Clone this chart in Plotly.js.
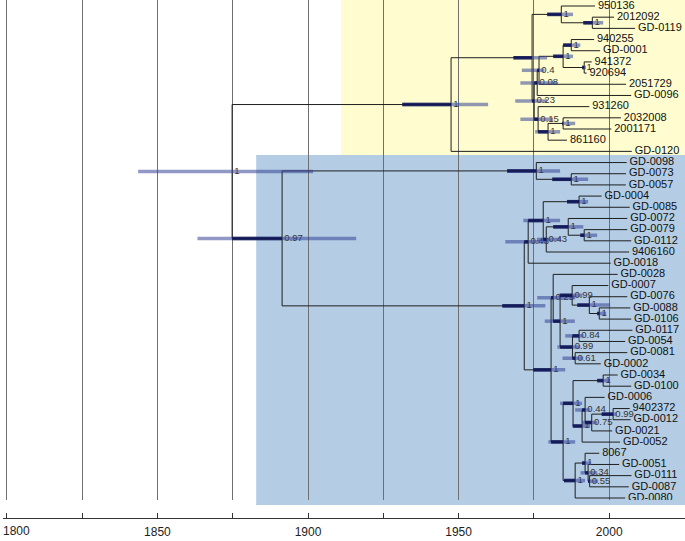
<!DOCTYPE html>
<html><head><meta charset="utf-8">
<script src="https://cdn.plot.ly/plotly-3.0.1.min.js"></script>
<style>html,body{margin:0;padding:0;background:#fff}#chart{width:685px;height:541px}</style>
</head><body><div id="chart"></div>
<script>
// ---------- data ----------
const leafNames = ['950136','2012092','GD-0119','940255','GD-0001','941372','920694','2051729','GD-0096','931260','2032008','2001171','861160','GD-0120',
  'GD-0098','GD-0073','GD-0057','GD-0004','GD-0085','GD-0072','GD-0079','GD-0112','9406160','GD-0018','GD-0028','GD-0007','GD-0076','GD-0088','GD-0106',
  'GD-0117','GD-0054','GD-0081','GD-0002','GD-0034','GD-0100','GD-0006','9402372','GD-0012','GD-0021','GD-0052','8067','GD-0051','GD-0111','GD-0087','GD-0080'];
const leafYears = [1995.3,2001.6,2008.6,1995.0,1997.0,1994.2,1992.5,2005.6,2007.3,1993.4,2003.9,2000.7,1986.0,2007.5,
  2005.8,2005.6,2005.5,1997.5,2006.8,2006.0,2006.0,2007.3,2006.6,2000.5,2002.8,1999.7,2006.0,2007.0,2007.3,
  2007.7,2005.3,2006.0,1997.2,2002.8,2007.3,1998.5,2006.8,2007.1,2001.0,2003.6,1996.7,2003.3,2007.4,2006.5,2005.3];

const nodeIds = ['root','Y0','Y1','a','b','n023','n008','n04','pq','p','q','n015','r','s',
  'A','B0','m','B1','N1','N2','N2a','N3','N4','N4a','N5','w8','w7','w3','w2','w1','w6','w4','w5',
  'U7','U6','u1','u5','u4','u3','u2','v4','v3','v2','v1'];
const nodeKids = [['Y0','A'],['Y1','GD-0120'],['a','n023'],['950136','b'],['2012092','GD-0119'],['n008','n015'],['n04','GD-0096'],['pq','2051729'],
  ['p','q'],['940255','GD-0001'],['941372','920694'],['931260','r'],['s','861160'],['2032008','2001171'],
  ['B0','B1'],['GD-0098','m'],['GD-0073','GD-0057'],['N1','N5'],['N2','GD-0018'],['N2a','N3'],['GD-0004','GD-0085'],['N4','9406160'],
  ['GD-0072','N4a'],['GD-0079','GD-0112'],['w8','U7'],['GD-0028','w7'],['w3','w6'],['GD-0007','w2'],['GD-0076','w1'],['GD-0088','GD-0106'],
  ['w4','w5'],['GD-0117','GD-0054'],['GD-0081','GD-0002'],
  ['U6','v4'],['u1','u5'],['GD-0034','GD-0100'],['u4','GD-0052'],['GD-0006','u3'],['u2','GD-0021'],['9402372','GD-0012'],
  ['v3','GD-0080'],['8067','v2'],['GD-0051','v1'],['GD-0111','GD-0087']];
const nodeYears = [1874.8,1947.5,1974.4,1984.1,1994.4,1975.1,1976.1,1976.7,1984.7,1987.4,1991.7,1976.4,1979.7,1984.7,
  1891.4,1975.8,1987.4,1971.8,1973.1,1978.1,1990.0,1979.1,1986.4,1991.7,1980.7,1981.4,1983.7,1987.7,1993.4,1996.7,1987.8,1990.0,1988.7,
  1984.7,1988.0,1998.0,1991.0,1992.0,1994.2,2001.3,1988.7,1992.0,1993.0,1993.5];
const hpdLow = [1843.6,1931.3,1968.2,1979.4,1991.4,1968.8,1970.5,1971.0,1981.4,1984.7,1991.0,1970.5,1975.4,1984.4,
  1863.3,1966.1,1981.1,1964.5,1965.5,1971.5,1986.0,1976.0,1981.4,1990.4,1974.8,1976.1,1978.6,1983.1,1989.4,1996.0,1982.8,1985.4,1984.5,
  1979.8,1983.7,1996.0,1987.7,1988.7,1991.0,1997.5,1985.0,1991.0,1990.5,1993.0];
const hpdHigh = [1901.7,1959.8,1979.4,1988.0,1998.0,1979.4,1982.7,1978.5,1988.0,1990.4,1992.3,1981.4,1983.7,1988.7,
  1916.0,1983.7,1993.0,1978.8,1979.4,1983.7,1993.0,1984.0,1991.4,1996.0,1985.4,1988.7,1988.6,1991.1,2000.3,1999.0,1990.4,1991.5,1991.4,
  1988.7,1991.0,2000.3,1993.7,1993.7,1996.0,2002.5,1992.0,1994.0,1996.0,1996.3];
const posterior = ['1','1','','1','1','0.23','0.08','0.4','1','1','1','0.15','1','1',
  '0.97','1','1','1','0.43','1','1','0.43','1','1','1','0.29','1','0.99','1','1','0.99','0.84','0.61',
  '1','1','1','1','0.44','0.75','0.99','1','1','0.34','0.55'];

const tickYears = [1800,1825,1850,1875,1900,1925,1950,1975,2000];
const tickLabels = ['','','1850','','1900','','1950','','2000'];
const firstTickLabel = '1800';

const highlightNodes = ['Y0','A'];
const highlightStart = [1911.0,1882.8];

// ---------- tree geometry ----------
const yearOf = {}, rowOf = {}, kidsOf = {}, parentOf = {};
leafNames.forEach((n,i)=>{ yearOf[n]=leafYears[i]; rowOf[n]=i; });
nodeIds.forEach((n,i)=>{ yearOf[n]=nodeYears[i]; kidsOf[n]=nodeKids[i]; nodeKids[i].forEach(c=>parentOf[c]=n); });
function rowFor(n){
  if (rowOf[n]!==undefined) return rowOf[n];
  const k = kidsOf[n];
  const r = (rowFor(k[0]) + rowFor(k[k.length-1]))/2;
  rowOf[n]=r; return r;
}
nodeIds.forEach(rowFor);
function leavesUnder(n){ return kidsOf[n] ? kidsOf[n].flatMap(leavesUnder) : [n]; }

const bx=[], by=[];
nodeIds.forEach(n=>{
  const k = kidsOf[n], x = yearOf[n];
  bx.push(x, x, null); by.push(rowOf[k[0]], rowOf[k[k.length-1]], null);
  k.forEach(c=>{ bx.push(x, yearOf[c], null); by.push(rowOf[c], rowOf[c], null); });
});
const lx=[], ly=[], dx=[], dy=[];
nodeIds.forEach((n,i)=>{
  const y = rowOf[n];
  lx.push(hpdLow[i], hpdHigh[i], null); ly.push(y, y, null);
  if (parentOf[n]) {
    const s = Math.max(hpdLow[i], yearOf[parentOf[n]]);
    if (s < nodeYears[i]) { dx.push(s, nodeYears[i], null); dy.push(y, y, null); }
  }
});

// ---------- layout geometry ----------
const W=685, H=541, ML=3, MR=0, MT=0, MB=23, PXY=3.012;
const plotH = H-MT-MB, gridBottom = 500, rowPx = 11.182, firstRowPx = 6;
const xMin = 1800 - 3.8/PXY, xMax = xMin + (W-ML-MR)/PXY;
const yTop = -firstRowPx/rowPx, yBot = yTop + gridBottom/rowPx;
const rowToPaper = r => (plotH - (r - yTop)*rowPx)/plotH;
const yearToPaper = v => (v - xMin)/(xMax - xMin);

const boxColors = ['#fffdcf','#b4cde4'];
const boxPad = [[-0.6,0.33],[-0.67,0.63]];
const shapes = highlightNodes.map((n,i)=>{
  const lv = leavesUnder(n).map(l=>rowOf[l]);
  return {type:'rect', xref:'paper', yref:'paper', layer:'below',
    x0: yearToPaper(highlightStart[i]), x1: 1,
    y0: Math.min(1, rowToPaper(Math.min(...lv)+boxPad[i][0])), y1: rowToPaper(Math.max(...lv)+boxPad[i][1]),
    fillcolor: boxColors[i], line:{width:0}};
});

const FONT = 'Liberation Sans, Arial, Helvetica, sans-serif';
const traces = [
  {type:'scatter', mode:'lines', x:bx, y:by, line:{color:'#1e1e1e', width:1}, hoverinfo:'skip'},
  {type:'scatter', mode:'markers+text', x:nodeYears, y:nodeIds.map(n=>rowOf[n]), text:posterior,
    textposition:'middle right', marker:{size:2, opacity:0}, textfont:{family:FONT, size:9.5, color:'#333'}, hoverinfo:'skip'},
  {type:'scatter', mode:'lines', x:lx, y:ly, line:{color:'rgba(55,68,150,0.55)', width:3.5}, hoverinfo:'skip'},
  {type:'scatter', mode:'lines', x:dx, y:dy, line:{color:'rgba(12,18,80,0.85)', width:3.5}, hoverinfo:'skip'},
  {type:'scatter', mode:'markers+text', x:leafYears, y:leafNames.map(n=>rowOf[n]), text:leafNames,
    textposition:'middle right', marker:{size:3, opacity:0}, textfont:{family:FONT, size:11, color:'#111'}, hoverinfo:'skip'}
];

const layout = {
  width:W, height:H, margin:{l:ML, r:MR, t:MT, b:MB, pad:0},
  paper_bgcolor:'#fff', plot_bgcolor:'rgba(0,0,0,0)', showlegend:false,
  font:{family:FONT, size:12, color:'#222'},
  xaxis:{range:[xMin,xMax], anchor:'free', position:0, domain:[0,1],
    showgrid:true, gridcolor:'#707070', gridwidth:1, zeroline:false,
    tickmode:'array', tickvals:tickYears, ticktext:tickLabels,
    ticks:'inside', ticklen:5, tickcolor:'#333', tickwidth:1, ticklabelstandoff:3,
    showline:true, linecolor:'#333', linewidth:1, tickfont:{family:FONT, size:12, color:'#222'}},
  yaxis:{range:[yBot,yTop], domain:[(plotH-gridBottom)/plotH,1], visible:false, showgrid:false, zeroline:false},
  shapes: shapes,
  annotations:[{xref:'x', yref:'paper', x:tickYears[0], y:0, xanchor:'left', yanchor:'top', xshift:-6, yshift:-4,
    text:firstTickLabel, showarrow:false, font:{family:FONT, size:12, color:'#222'}}]
};
Plotly.newPlot('chart', traces, layout, {staticPlot:true, displayModeBar:false});
</script></body></html>
